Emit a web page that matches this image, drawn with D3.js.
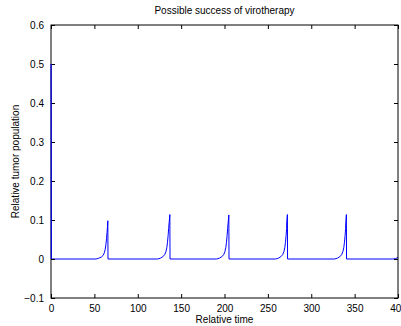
<!DOCTYPE html>
<html>
<head>
<meta charset="utf-8">
<script src="https://cdn.jsdelivr.net/npm/d3@7"></script>
<style>
  body { margin: 0; background: #fff; }
  svg { display: block; font-family: "Liberation Sans", Arial, sans-serif; }
  .tick text { font-size: 10px; fill: #000; }
</style>
</head>
<body>
<svg id="chart"></svg>
<script>
// relative time samples and tumor population
const times = [
  0, 0.3, 52, 55, 58, 60, 61.5, 62.5, 63.3, 64, 64.6, 65.1, 65.5, 65.7,
  123, 126, 129, 131, 132.5, 133.5, 134.3, 135, 135.6, 136.3, 137, 137.2,
  191, 194, 197, 199, 200.5, 201.5, 202.3, 203, 203.6, 204.3, 205, 205.2,
  259, 262, 265, 267, 268.5, 269.5, 270.3, 271, 271.6, 271.8, 272.5, 272.7,
  327, 330, 333, 335, 336.5, 337.5, 338.3, 339, 339.6, 339.9, 340.5, 340.7,
  394, 397, 400
];
const population = [
  0.5, 0, 0, 0.002, 0.005, 0.009, 0.016, 0.025, 0.037, 0.052, 0.068, 0.083, 0.098, 0,
  0, 0.002, 0.006, 0.011, 0.019, 0.029, 0.043, 0.06, 0.078, 0.096, 0.114, 0,
  0, 0.002, 0.006, 0.011, 0.019, 0.029, 0.043, 0.06, 0.078, 0.095, 0.113, 0,
  0, 0.002, 0.006, 0.011, 0.019, 0.029, 0.043, 0.06, 0.078, 0.096, 0.114, 0,
  0, 0.002, 0.006, 0.011, 0.019, 0.029, 0.043, 0.06, 0.078, 0.096, 0.114, 0,
  0, 0.001, 0.004
];
const xTicks = [0, 50, 100, 150, 200, 250, 300, 350, 400];
const yTicks = [-0.1, 0, 0.1, 0.2, 0.3, 0.4, 0.5, 0.6];

const config = {
  width: 401,
  height: 326,
  margin: { top: 25, right: 3, bottom: 28, left: 51 }
};

const width = config.width - config.margin.left - config.margin.right;
const height = config.height - config.margin.top - config.margin.bottom;

const svg = d3.select('#chart')
  .attr('width', config.width)
  .attr('height', config.height);

const chart = svg.append('g')
  .attr('transform', `translate(${config.margin.left},${config.margin.top})`);

const xScale = d3.scaleLinear().domain([0, 400]).range([0, width]);
const yScale = d3.scaleLinear().domain([-0.1, 0.6]).range([height, 0]);

// clip so the line stays inside the box
chart.append('clipPath').attr('id', 'clip')
  .append('rect').attr('width', width).attr('height', height);

const data = times.map((t, i) => ({ t: t, y: population[i] }));

const line = d3.line()
  .x(d => xScale(d.t))
  .y(d => yScale(d.y));

chart.append('path')
  .datum(data)
  .attr('clip-path', 'url(#clip)')
  .attr('fill', 'none')
  .attr('stroke', '#0000ff')
  .attr('stroke-width', 1)
  .attr('d', line);

// axes, ticks pointing inward like matlab
const fmtY = d3.format('.1~f');
chart.append('g')
  .attr('transform', `translate(0,${height})`)
  .call(d3.axisBottom(xScale).tickValues(xTicks).tickSize(-4).tickPadding(7).tickSizeOuter(0))
  .call(g => g.select('.domain').remove());
chart.append('g')
  .call(d3.axisTop(xScale).tickValues(xTicks).tickSize(-4).tickFormat('').tickSizeOuter(0))
  .call(g => g.select('.domain').remove());
chart.append('g')
  .call(d3.axisLeft(yScale).tickValues(yTicks).tickSize(-4).tickPadding(7).tickFormat(d => d === 0 ? '0' : fmtY(d)).tickSizeOuter(0))
  .call(g => g.select('.domain').remove());
chart.append('g')
  .attr('transform', `translate(${width},0)`)
  .call(d3.axisRight(yScale).tickValues(yTicks).tickSize(-4).tickFormat('').tickSizeOuter(0))
  .call(g => g.select('.domain').remove());

chart.selectAll('.tick line').attr('stroke', '#000');

// box
chart.append('rect')
  .attr('width', width)
  .attr('height', height)
  .attr('fill', 'none')
  .attr('stroke', '#000')
  .attr('stroke-width', 1);

// redraw line over left edge (it sits on the axis)
chart.append('path')
  .datum(data.slice(0, 2))
  .attr('fill', 'none')
  .attr('stroke', '#0000ff')
  .attr('stroke-width', 1)
  .attr('d', line);

// titles
svg.append('text')
  .attr('x', config.margin.left + width / 2)
  .attr('y', 14)
  .attr('text-anchor', 'middle')
  .style('font-size', '10px')
  .text('Possible success of virotherapy');

svg.append('text')
  .attr('x', config.margin.left + width / 2)
  .attr('y', 323)
  .attr('text-anchor', 'middle')
  .style('font-size', '10px')
  .text('Relative time');

svg.append('text')
  .attr('transform', `translate(19,${config.margin.top + height / 2}) rotate(-90)`)
  .attr('text-anchor', 'middle')
  .style('font-size', '10px')
  .text('Relative tumor population');
</script>
</body>
</html>
